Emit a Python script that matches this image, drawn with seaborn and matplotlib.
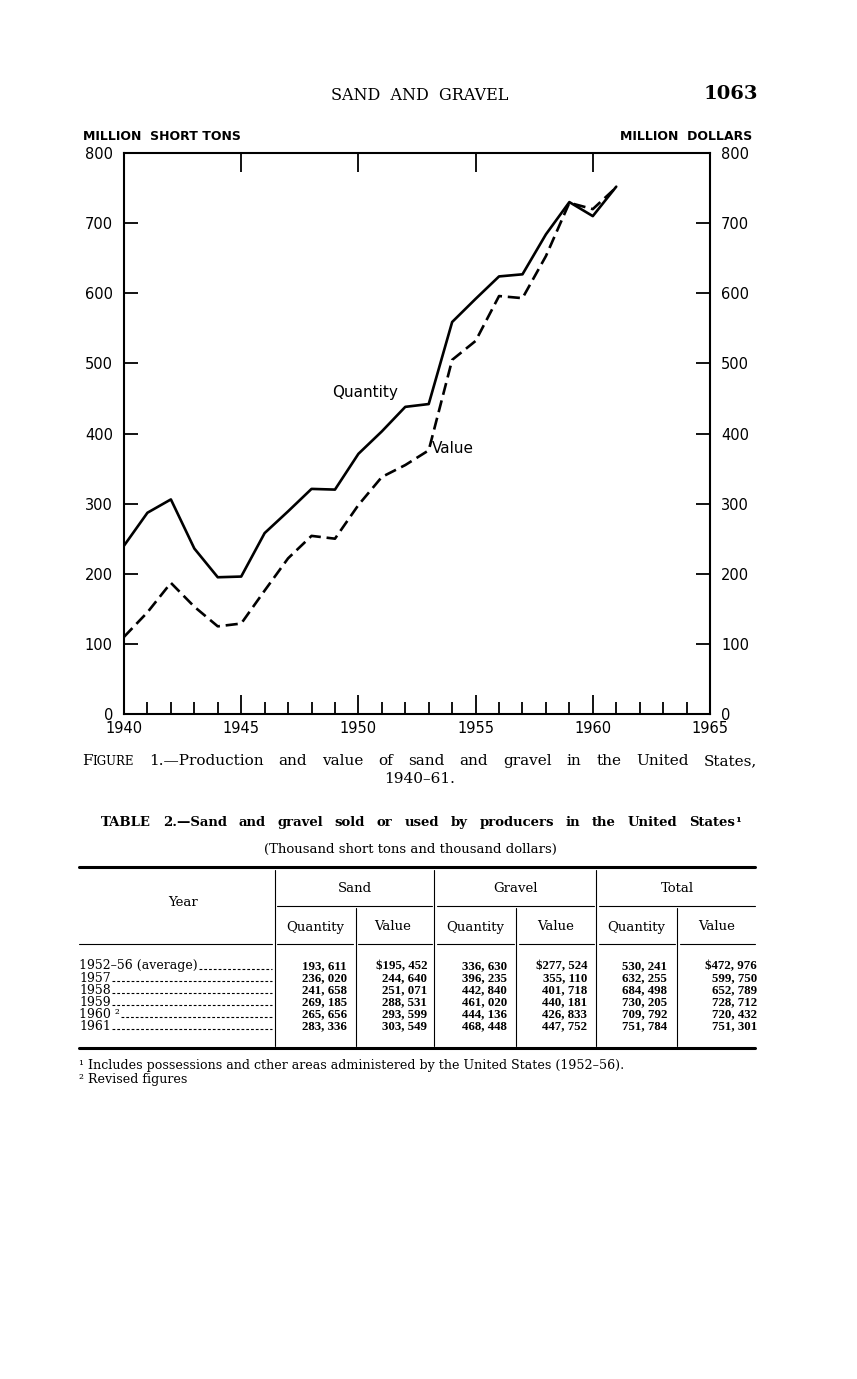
import pandas as pd
import matplotlib.pyplot as plt
from matplotlib.lines import Line2D
import seaborn as sns

# Figure 1 data (million short tons / million dollars)
years = list(range(1940, 1962))
quantity = [240, 287, 306, 236, 195, 196, 258, 289, 321, 320, 371, 403,
            438, 442, 559, 592, 624, 627, 684, 730, 710, 752]
value = [110, 145, 187, 153, 125, 129, 176, 222, 254, 250, 298, 338,
         355, 376, 505, 532, 596, 593, 653, 729, 720, 751]

# Table 2 data (thousand short tons and thousand dollars)
row_labels = ["1952–56 (average)", "1957", "1958", "1959", "1960 ²", "1961"]
sand_qty = [193611, 236020, 241658, 269185, 265656, 283336]
sand_val = [195452, 244640, 251071, 288531, 293599, 303549]
gravel_qty = [336630, 396235, 442840, 461020, 444136, 468448]
gravel_val = [277524, 355110, 401718, 440181, 426833, 447752]
total_qty = [530241, 632255, 684498, 730205, 709792, 751784]
total_val = [472976, 599750, 652789, 728712, 720432, 751301]

W, H = 857, 1379
SERIF = "DejaVu Serif"
TABLE_FONT = "Liberation Serif"

sns.set_style("ticks")
plt.rcParams["font.family"] = ["DejaVu Sans"]
plt.rcParams["text.color"] = "black"
plt.rcParams["axes.edgecolor"] = "black"
plt.rcParams["xtick.color"] = "black"
plt.rcParams["ytick.color"] = "black"
plt.rcParams["xtick.labelcolor"] = "black"
plt.rcParams["ytick.labelcolor"] = "black"

fig = plt.figure(figsize=(W / 100, H / 100), dpi=100)
fig.patch.set_facecolor("white")


def fx(x):
    return x / W


def fy(y):
    return 1 - y / H


def hline(x0, x1, y, lw=0.8, **kw):
    fig.add_artist(Line2D([fx(x0), fx(x1)], [fy(y), fy(y)], transform=fig.transFigure,
                          color="black", lw=lw, **kw))


def vline(x, y0, y1, lw=0.8):
    fig.add_artist(Line2D([fx(x), fx(x)], [fy(y0), fy(y1)], transform=fig.transFigure,
                          color="black", lw=lw))


def place_words(words, x0, x1, y, weight="normal"):
    """Lay out words (each a list of (text, size) pieces) justified between x0 and x1."""
    r = fig.canvas.get_renderer()
    laid = []
    for word in words:
        arts = [fig.text(0, fy(y), s, fontsize=sz, family=SERIF, weight=weight, va="baseline")
                for s, sz in word]
        ws = [a.get_window_extent(r).width for a in arts]
        laid.append((arts, ws))
    total = sum(sum(ws) for _, ws in laid)
    gap = (x1 - x0 - total) / (len(laid) - 1)
    x = x0
    for arts, ws in laid:
        for a, w in zip(arts, ws):
            a.set_x(fx(x))
            x += w
        x += gap


# ---- page header ----
fig.text(fx(420), fy(96), "SAND  AND  GRAVEL", family=SERIF, fontsize=11.5, ha="center", va="center")
fig.text(fx(758), fy(94), "1063", family=SERIF, fontsize=14, weight="bold", ha="right", va="center")

# ---- chart ----
ax = fig.add_axes([fx(124), fy(714), (710 - 124) / W, (714 - 153) / H])
df = pd.DataFrame({"year": years, "quantity": quantity, "value": value})
sns.lineplot(data=df, x="year", y="quantity", ax=ax, color="black", lw=1.9)
sns.lineplot(data=df, x="year", y="value", ax=ax, color="black", lw=1.9,
             linestyle=(0, (4.6, 2.2)))

ax.set_xlim(1940, 1965)
ax.set_ylim(0, 800)
ax.set_xticks(range(1940, 1966, 5))
ax.set_xticks(range(1940, 1966), minor=True)
ax.set_yticks(range(0, 801, 100))
ax.set_xlabel("")
ax.set_ylabel("")
for s in ax.spines.values():
    s.set_visible(True)
    s.set_linewidth(1.5)
ax.tick_params(axis="y", which="major", direction="in", length=10, width=1.3,
               left=True, right=True, labelleft=True, labelright=True, labelsize=10.5, pad=8)
ax.tick_params(axis="x", which="major", direction="in", length=14, width=1.3,
               top=True, bottom=True, labelsize=10.5, pad=5)
ax.tick_params(axis="x", which="minor", direction="in", length=9, width=1.3,
               top=False, bottom=True)

ax.text(1948.9, 459, "Quantity", fontsize=11, va="center")
ax.text(1953.15, 378, "Value", fontsize=11, va="center")

fig.text(fx(83), fy(137), "MILLION  SHORT TONS", fontsize=9, weight="bold", va="center")
fig.text(fx(752), fy(137), "MILLION  DOLLARS", fontsize=9, weight="bold", ha="right", va="center")

# ---- figure caption ----
caption = "1.—Production and value of sand and gravel in the United States,".split()
place_words([[("F", 11), ("IGURE", 8.5)]] + [[(w, 11)] for w in caption], 82, 757, 765)
fig.text(fx(420), fy(779), "1940–61.", family=SERIF, fontsize=11, ha="center", va="center")

# ---- table title ----
title = "TABLE 2.—Sand and gravel sold or used by producers in the United".split()
place_words([[(w, 9.5)] for w in title] + [[("States", 9.5), ("¹", 9.5)]], 101, 741, 826,
            weight="bold")
fig.text(fx(410), fy(849), "(Thousand short tons and thousand dollars)", family=SERIF,
         fontsize=9.5, ha="center", va="center")

# ---- table rules ----
hline(79, 755, 867, lw=2.2)
hline(79, 755, 1048, lw=2.2)
for a, b in [(277, 432), (437, 594), (599, 755)]:
    hline(a, b, 906)
for a, b in [(79, 272), (277, 353), (358, 432), (437, 514), (519, 594), (599, 675), (680, 755)]:
    hline(a, b, 944)
for x in [275, 434, 596]:
    vline(x, 870, 1046)
for x in [356, 516, 677]:
    vline(x, 908, 1046)

# ---- table headers ----
hdr = dict(family=SERIF, fontsize=9.5, ha="center", va="center")
fig.text(fx(183), fy(902), "Year", **hdr)
for name, cx in [("Sand", 355), ("Gravel", 515), ("Total", 677)]:
    fig.text(fx(cx), fy(888), name, **hdr)
for cq, cv in [(315, 393), (475, 556), (636, 717)]:
    fig.text(fx(cq), fy(927), "Quantity", **hdr)
    fig.text(fx(cv), fy(927), "Value", **hdr)


def fmt(v, dollar=False):
    s = "{:,}".format(v).replace(",", ", ")
    return ("$" + s) if dollar else s


columns = [(sand_qty, 347, False), (sand_val, 427, True), (gravel_qty, 507, False),
           (gravel_val, 587, True), (total_qty, 667, False), (total_val, 757, True)]
r = fig.canvas.get_renderer()
for i, lab in enumerate(row_labels):
    base = 969.5 + i * 12.0
    t = fig.text(fx(79), fy(base), lab, family=SERIF, fontsize=9, va="baseline")
    right = t.get_window_extent(r).x1
    hline(right + 1, 272, base - 0.5, lw=0.8, linestyle=(0, (2.5, 1.8)))
    for vals, xr, dollar in columns:
        fig.text(fx(xr), fy(base), fmt(vals[i], dollar and i == 0), family=TABLE_FONT,
                 weight="bold", fontsize=9.3, ha="right", va="baseline")

# ---- footnotes ----
fig.text(fx(79), fy(1066), "¹ Includes possessions and cther areas administered by the United States (1952–56).",
         family=SERIF, fontsize=9.1, va="center")
fig.text(fx(79), fy(1080), "² Revised figures", family=SERIF, fontsize=9.1, va="center")

fig.savefig("out.png", dpi=100)
